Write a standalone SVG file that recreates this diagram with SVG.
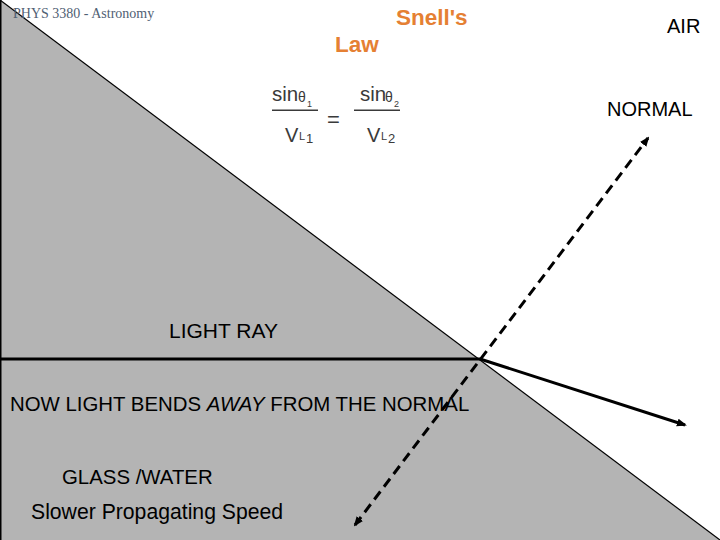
<svg xmlns="http://www.w3.org/2000/svg" width="720" height="540" viewBox="0 0 720 540">
<defs>
<style>
.t{font-family:"Liberation Sans",Arial,sans-serif;fill:#000}
.o{font-family:"Liberation Sans",Arial,sans-serif;font-size:22.5px;font-weight:bold;fill:#e58033}
.f{font-family:"Liberation Sans",Arial,sans-serif;fill:#3a3a3a}
.ray{stroke:#000;stroke-width:3;fill:none}
</style>
<marker id="ah" viewBox="0 0 10 10" refX="8" refY="5" markerWidth="10" markerHeight="10" markerUnits="userSpaceOnUse" orient="auto-start-reverse">
<path d="M0,1 L10,5 L0,9 Z" fill="#000"/>
</marker>
</defs>
<rect width="720" height="540" fill="#fff"/>
<g id="glass">
<path d="M0,0 L720,540 L0,540 Z" fill="#b4b4b4"/>
<path d="M0,0 L720,540" stroke="#000" stroke-width="1.2"/>
<path d="M0.75,0 L0.75,540" stroke="#000" stroke-width="1.5"/>
</g>
<g id="connectors">
<path class="ray" d="M0,359 L480,359"/>
<path class="ray" d="M480,359 L685,425" marker-end="url(#ah)"/>
<path class="ray" d="M355,525 L648,138" stroke-dasharray="10,6" marker-start="url(#ah)" marker-end="url(#ah)"/>
</g>
<g id="header">
<text x="13" y="18" font-family="'Liberation Serif','Times New Roman',serif" font-size="14" fill="#4f6073">PHYS 3380 - Astronomy</text>
</g>
<g id="title">
<text class="o" x="396" y="25">Snell's</text>
<text class="o" x="335" y="52">Law</text>
</g>
<g id="formula">
<text class="f" x="272" y="101" font-size="20.5">sin</text>
<text class="f" x="298" y="102" font-size="14">θ</text>
<text class="f" x="307" y="107" font-size="9">1</text>
<rect x="272" y="109.5" width="46" height="1.5" fill="#3a3a3a"/>
<text class="f" x="285" y="142" font-size="20">V</text>
<text class="f" x="299" y="140" font-size="11">L</text>
<text class="f" x="306" y="143" font-size="13">1</text>
<text class="f" x="327" y="127" font-size="22">=</text>
<text class="f" x="360" y="101" font-size="20.5">sin</text>
<text class="f" x="385" y="102" font-size="14">θ</text>
<text class="f" x="394" y="107" font-size="9">2</text>
<rect x="354" y="109.5" width="46" height="1.5" fill="#3a3a3a"/>
<text class="f" x="367" y="142" font-size="20">V</text>
<text class="f" x="381" y="140" font-size="11">L</text>
<text class="f" x="388" y="143" font-size="13">2</text>
</g>
<g id="labels">
<text class="t" x="667" y="33" font-size="20">AIR</text>
<text class="t" x="607" y="116" font-size="20">NORMAL</text>
<text class="t" x="169" y="338" font-size="21">LIGHT RAY</text>
<text class="t" x="10" y="411" font-size="20.4">NOW LIGHT BENDS <tspan font-style="italic">AWAY</tspan> FROM THE NORMAL</text>
<text class="t" x="62" y="484" font-size="20.4">GLASS /WATER</text>
<text class="t" x="31" y="519" font-size="21.2">Slower Propagating Speed</text>
</g>
</svg>
